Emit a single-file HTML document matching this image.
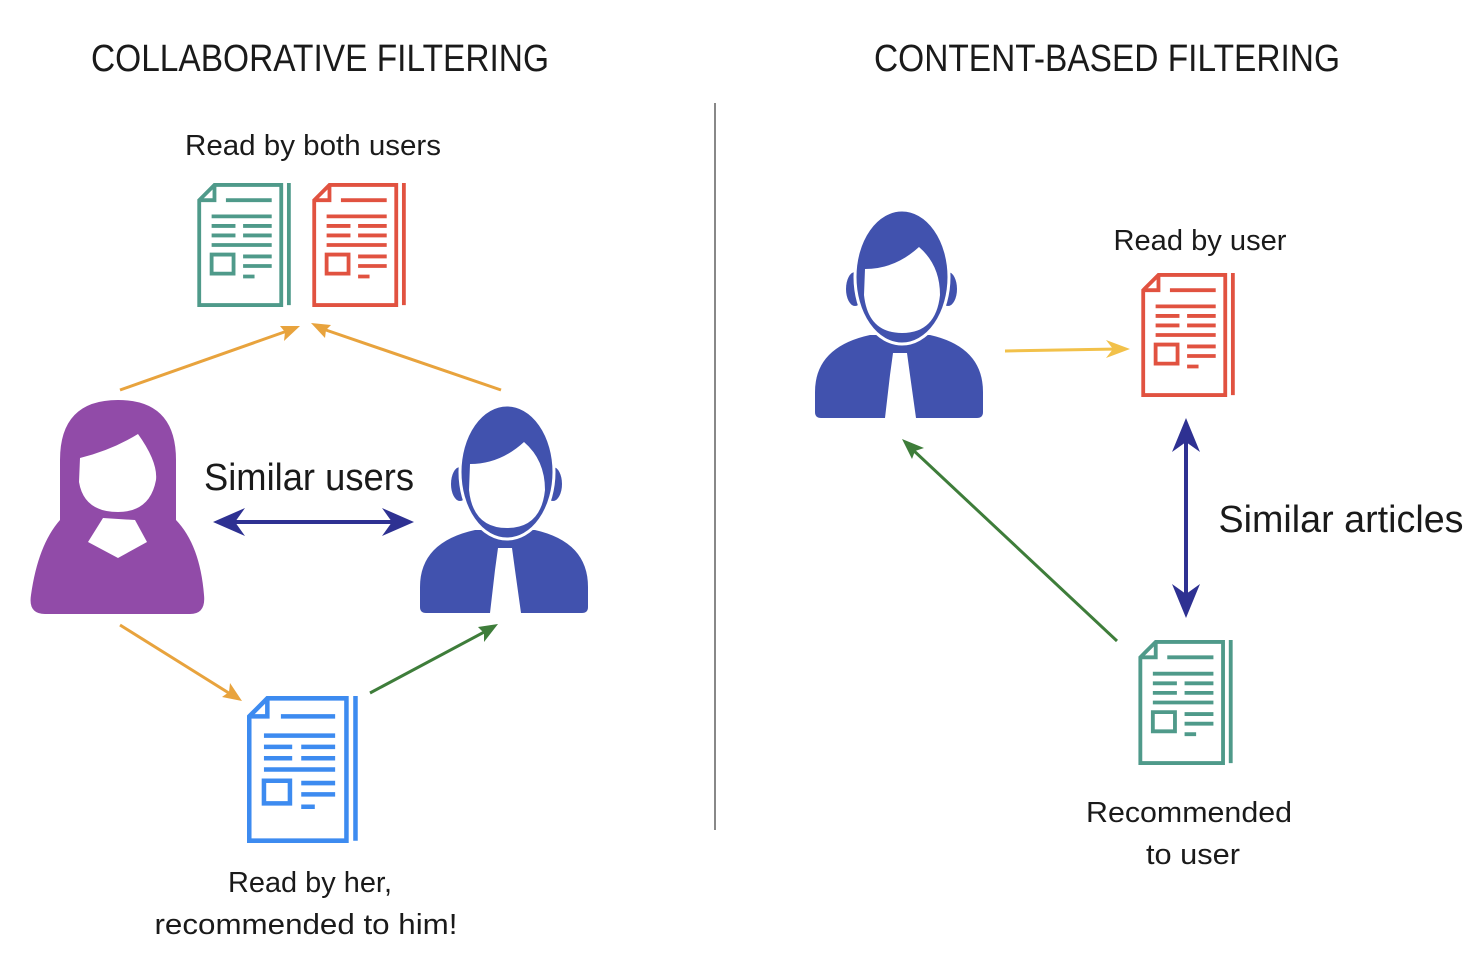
<!DOCTYPE html>
<html><head><meta charset="utf-8"><style>
html,body{margin:0;padding:0;background:#fff;}
svg{display:block;font-family:"Liberation Sans",sans-serif;}
</style></head><body>
<svg width="1482" height="970" viewBox="0 0 1482 970" xmlns="http://www.w3.org/2000/svg">
<defs>
<symbol id="doc" viewBox="0 0 100 130">
<g fill="none" stroke-width="4" stroke-linecap="butt">
<path d="M2,18 L18,2 H88 V128 H2 Z"/>
<path d="M2,18 H18 V2"/>
<path d="M96,0 V128"/>
<path d="M30,18 H78"/>
<path d="M15,35 H78 M15,45 H40 M48,45 H78 M15,55 H40 M48,55 H78 M15,65 H78"/>
<path d="M15,75 H38 V95 H15 Z"/>
<path d="M48,77 H78 M48,87 H78 M48,98 H60"/>
</g>
</symbol>
<symbol id="man" viewBox="0 0 168 211">
<ellipse cx="40" cy="82" rx="9" ry="17" fill="#4152AE"/>
<ellipse cx="133" cy="82" rx="9" ry="17" fill="#4152AE"/>
<path d="M55,128 Q0,140 0,185 L0,205 Q0,211 6,211 L162,211 Q168,211 168,205 L168,185 Q168,140 115,128 Z" fill="#4152AE"/>
<path d="M78,146 L92,146 L95,168 L101,211 L70,211 L75,168 Z" fill="#fff"/>
<ellipse cx="87" cy="70" rx="47" ry="67" fill="#4152AE" stroke="#fff" stroke-width="3"/>
<path d="M50,62 Q80,62 104,40 Q125,58 125,88 Q121,126 87,126 Q53,126 49,88 Z" fill="#fff"/>
</symbol>
</defs>

<text x="320" y="71" font-size="38" text-anchor="middle" textLength="458" lengthAdjust="spacingAndGlyphs" fill="#1a1a1a">COLLABORATIVE FILTERING</text>
<text x="1107" y="71" font-size="38" text-anchor="middle" textLength="466" lengthAdjust="spacingAndGlyphs" fill="#1a1a1a">CONTENT-BASED FILTERING</text>

<line x1="715" y1="103" x2="715" y2="830" stroke="#888" stroke-width="2"/>

<text x="313" y="155" font-size="29" text-anchor="middle" textLength="256" lengthAdjust="spacingAndGlyphs" fill="#1a1a1a">Read by both users</text>
<use href="#doc" x="197" y="183" width="96" height="124" stroke="#4F9A8A"/>
<use href="#doc" x="312" y="183" width="96" height="124" stroke="#E15240"/>

<g stroke="#E8A33D" stroke-width="3" fill="none">
<line x1="120" y1="390" x2="290" y2="330"/>
<line x1="501" y1="390" x2="320" y2="328"/>
<line x1="120" y1="625" x2="232" y2="695"/>
</g>
<path d="M300,326 L280,326 L285,332 L284,341 Z" fill="#E8A33D"/>
<path d="M311,323 L325,338 L326,330 L331,325 Z" fill="#E8A33D"/>
<path d="M242,701 L230,683 L229,692 L222,697 Z" fill="#E8A33D"/>

<line x1="370" y1="693" x2="488" y2="630" stroke="#3E7D3A" stroke-width="3"/>
<path d="M498,624 L478,627 L484,633 L484,642 Z" fill="#3E7D3A"/>

<path d="M60,460 Q60,400 118,400 Q176,400 176,460 L176,520 Q200,545 204,595 Q206,614 190,614 L45,614 Q28,614 31,595 Q38,545 60,520 Z" fill="#914BA8"/>
<path d="M80,458 Q112,450 138,434 Q158,462 156,480 Q150,512 118,512 Q84,512 79,482 Z" fill="#fff"/>
<path d="M103,518 L135,520 L147,542 L118,558 L88,542 Z" fill="#fff"/>

<text x="309" y="490" font-size="38" text-anchor="middle" textLength="210" lengthAdjust="spacingAndGlyphs" fill="#1a1a1a">Similar users</text>
<line x1="225" y1="522" x2="400" y2="522" stroke="#2E3192" stroke-width="4"/>
<path d="M213,522 L245,508 L235,522 L245,536 Z" fill="#2E3192"/>
<path d="M414,522 L382,508 L392,522 L382,536 Z" fill="#2E3192"/>

<use href="#man" x="420" y="402" width="168" height="211"/>

<use href="#doc" x="247" y="696" width="113" height="147" stroke="#3D8BF0"/>
<text x="310" y="892" font-size="29" text-anchor="middle" textLength="164" lengthAdjust="spacingAndGlyphs" fill="#1a1a1a">Read by her,</text>
<text x="306" y="934" font-size="29" text-anchor="middle" textLength="303" lengthAdjust="spacingAndGlyphs" fill="#1a1a1a">recommended to him!</text>

<use href="#man" x="815" y="207" width="168" height="211"/>
<text x="1200" y="250" font-size="29" text-anchor="middle" textLength="173" lengthAdjust="spacingAndGlyphs" fill="#1a1a1a">Read by user</text>
<use href="#doc" x="1141" y="273" width="96" height="124" stroke="#E15240"/>
<line x1="1005" y1="351" x2="1118" y2="349" stroke="#F2C14A" stroke-width="3"/>
<path d="M1130,349 L1106,340 L1113,349 L1106,358 Z" fill="#F2C14A"/>

<line x1="1186" y1="435" x2="1186" y2="600" stroke="#2E3192" stroke-width="4"/>
<path d="M1186,418 L1172,452 L1186,442 L1200,452 Z" fill="#2E3192"/>
<path d="M1186,618 L1172,584 L1186,594 L1200,584 Z" fill="#2E3192"/>
<text x="1341" y="532" font-size="38" text-anchor="middle" textLength="245" lengthAdjust="spacingAndGlyphs" fill="#1a1a1a">Similar articles</text>

<line x1="1117" y1="641" x2="912" y2="449" stroke="#3E7D3A" stroke-width="3"/>
<path d="M902,439 L912,459 L915,451 L924,448 Z" fill="#3E7D3A"/>

<use href="#doc" x="1138" y="640" width="97" height="125" stroke="#4F9A8A"/>
<text x="1189" y="822" font-size="29" text-anchor="middle" textLength="206" lengthAdjust="spacingAndGlyphs" fill="#1a1a1a">Recommended</text>
<text x="1193" y="864" font-size="29" text-anchor="middle" textLength="94" lengthAdjust="spacingAndGlyphs" fill="#1a1a1a">to user</text>
</svg>
</body></html>
